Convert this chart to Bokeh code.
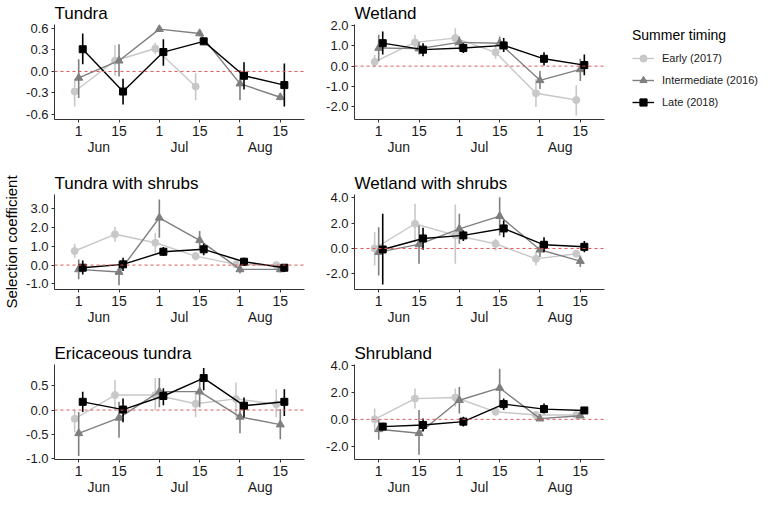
from bokeh.plotting import figure
from bokeh.layouts import column, row
from bokeh.models import (FixedTicker, LinearAxis, Legend, LegendItem,
                          Range1d, Span, NumeralTickFormatter)
from bokeh.embed import file_html
from bokeh.resources import INLINE

nan = float("nan")

# x positions: 1 Jun, 15 Jun, 1 Jul, 15 Jul, 1 Aug, 15 Aug
periods = [1, 2, 3, 4, 5, 6]
day_labels = ["1", "15", "1", "15", "1", "15"]
month_pos = [1.5, 3.5, 5.5]
month_labels = ["Jun", "Jul", "Aug"]

timings = ["Early", "Intermediate", "Late"]
timing_labels = ["Early (2017)", "Intermediate (2016)", "Late (2018)"]

# --- Tundra
tundra_est = {"Early": [-0.28, 0.15, 0.32, -0.21, nan, nan],
              "Intermediate": [-0.09, 0.15, 0.59, 0.53, -0.17, -0.36],
              "Late": [0.31, -0.28, 0.27, 0.42, -0.06, -0.19]}
tundra_lo = {"Early": [-0.49, -0.06, 0.24, -0.40, nan, nan],
             "Intermediate": [-0.37, -0.07, 0.55, 0.49, -0.40, -0.40],
             "Late": [0.10, -0.46, 0.08, 0.38, -0.25, -0.49]}
tundra_hi = {"Early": [-0.10, 0.37, 0.40, -0.02, nan, nan],
             "Intermediate": [0.17, 0.38, 0.63, 0.57, 0.02, -0.32],
             "Late": [0.53, -0.10, 0.45, 0.46, 0.13, 0.11]}

# --- Wetland
wetland_est = {"Early": [0.21, 1.17, 1.38, 0.68, -1.34, -1.67],
               "Intermediate": [0.89, 0.86, 1.17, 1.13, -0.70, -0.16],
               "Late": [1.13, 0.81, 0.89, 1.02, 0.36, 0.05]}
wetland_lo = {"Early": [-0.05, 0.80, 0.97, 0.36, -2.02, -2.43],
              "Intermediate": [0.24, 0.57, 0.80, 0.80, -1.13, -0.73],
              "Late": [0.57, 0.49, 0.65, 0.70, 0.03, -0.45]}
wetland_hi = {"Early": [0.55, 1.54, 1.86, 1.05, -0.65, -0.94],
              "Intermediate": [1.54, 1.20, 1.46, 1.46, -0.24, 0.36],
              "Late": [1.70, 1.13, 1.13, 1.38, 0.68, 0.57]}

# --- Tundra with shrubs
tshrub_est = {"Early": [0.75, 1.64, 1.19, 0.48, 0.04, 0.00],
              "Intermediate": [-0.23, -0.37, 2.52, 1.32, -0.23, -0.23],
              "Late": [-0.14, 0.04, 0.71, 0.84, 0.18, -0.14]}
tshrub_lo = {"Early": [0.39, 1.24, 0.66, 0.25, -0.12, -0.12],
             "Intermediate": [-0.76, -1.08, 1.46, 0.78, -0.45, -0.40],
             "Late": [-0.50, -0.32, 0.48, 0.53, -0.05, -0.36]}
tshrub_hi = {"Early": [1.14, 2.03, 1.72, 0.66, 0.20, 0.12],
             "Intermediate": [0.30, 0.21, 3.50, 1.81, 0.03, -0.05],
             "Late": [0.25, 0.39, 0.96, 1.14, 0.39, 0.04]}

# --- Wetland with shrubs
wshrub_est = {"Early": [0.00, 1.95, 1.03, 0.37, -0.82, -0.42],
              "Intermediate": [-0.29, 0.32, 1.55, 2.55, -0.10, -1.00],
              "Late": [-0.08, 0.79, 1.03, 1.58, 0.29, 0.13]}
wshrub_lo = {"Early": [-1.34, 0.50, -1.21, -0.16, -1.34, -0.68],
             "Intermediate": [-2.13, -1.21, 0.37, 1.03, -0.68, -1.47],
             "Late": [-2.84, -0.10, 0.58, 0.89, -0.29, -0.29]}
wshrub_hi = {"Early": [1.29, 3.53, 3.47, 0.76, -0.29, -0.16],
             "Intermediate": [1.68, 1.82, 2.74, 4.05, 0.50, -0.55],
             "Late": [2.74, 1.63, 1.42, 2.21, 0.89, 0.58]}

# --- Ericaceous tundra
eric_est = {"Early": [-0.18, 0.31, 0.31, 0.13, 0.23, 0.12],
            "Intermediate": [-0.48, -0.16, 0.38, 0.38, -0.14, -0.30],
            "Late": [0.17, 0.01, 0.29, 0.66, 0.09, 0.17]}
eric_lo = {"Early": [-0.46, 0.00, 0.00, -0.15, -0.15, -0.15],
           "Intermediate": [-0.95, -0.57, 0.06, 0.06, -0.48, -0.60],
           "Late": [-0.04, -0.25, 0.10, 0.41, -0.15, -0.12]}
eric_hi = {"Early": [0.00, 0.62, 0.66, 0.38, 0.57, 0.43],
           "Intermediate": [-0.04, 0.17, 0.66, 0.66, 0.16, 0.02],
           "Late": [0.38, 0.24, 0.45, 0.87, 0.26, 0.43]}

# --- Shrubland
shrub_est = {"Early": [0.00, 1.54, 1.62, 0.56, 0.32, 0.32],
             "Intermediate": [-0.74, -1.03, 1.42, 2.33, 0.05, 0.27],
             "Late": [-0.54, -0.42, -0.17, 1.13, 0.76, 0.66]}
shrub_lo = {"Early": [-0.90, 0.81, 0.93, 0.32, 0.15, 0.15],
            "Intermediate": [-1.52, -2.62, 0.44, 0.88, -0.10, 0.10],
            "Late": [-0.83, -0.91, -0.54, 0.69, 0.44, 0.44]}
shrub_hi = {"Early": [0.81, 2.28, 2.28, 0.81, 0.50, 0.50],
            "Intermediate": [-0.05, 0.69, 2.40, 3.75, 0.20, 0.44],
            "Late": [-0.25, 0.07, 0.20, 1.54, 1.18, 0.88]}

FONT = "Liberation Sans"
colors = {"Early": "#c8c8c8", "Intermediate": "#7f7f7f", "Late": "#000000"}
markers = {"Early": "circle", "Intermediate": "triangle", "Late": "square"}
msize = {"Early": 7, "Intermediate": 8, "Late": 7}
dodge = {"Early": -0.1, "Intermediate": 0.0, "Late": 0.1}


def panel(title, est, lo, hi, yr, yticks, left, top, bottom, ylabel=None):
    p = figure(frame_width=250, frame_height=95,
               x_range=Range1d(0.4, 6.6), y_range=Range1d(*yr),
               output_backend="svg", toolbar_location=None,
               min_border_left=50 if left else 44,
               min_border_right=6 if left else 4,
               min_border_top=top, min_border_bottom=bottom)
    p.outline_line_color = None
    p.grid.visible = False
    p.title.text = title
    p.title.text_font = FONT
    p.title.text_font_size = "17px"
    p.title.text_font_style = "normal"
    p.title.text_color = "#000000"
    p.title.align = "left"
    p.title.standoff = 3

    p.add_layout(Span(location=0, dimension="width", line_color="#e05555",
                      line_dash="3 3", line_width=1))

    for t in timings:
        xs = [x + dodge[t] for x in periods]
        p.segment(xs, lo[t], xs, hi[t], line_color=colors[t], line_width=1.6)
        p.line(xs, est[t], line_color=colors[t], line_width=1.4)
        p.scatter(xs, est[t], marker=markers[t], size=msize[t],
                  fill_color=colors[t], line_color=colors[t])

    xa = p.xaxis[0]
    xa.ticker = FixedTicker(ticks=periods)
    xa.major_label_overrides = dict(zip(periods, day_labels))
    ya = p.yaxis[0]
    ya.ticker = FixedTicker(ticks=yticks)
    ya.formatter = NumeralTickFormatter(format="0.0")
    for a in (xa, ya):
        a.axis_line_color = "#333333"
        a.major_tick_line_color = "#333333"
        a.major_tick_in = 0
        a.major_tick_out = 3
        a.minor_tick_line_color = None
        a.minor_tick_in = 0
        a.minor_tick_out = 0
        a.major_label_text_font = FONT
        a.major_label_text_color = "#1a1a1a"
        a.major_label_standoff = 3
    xa.major_label_text_font_size = "14px"
    ya.major_label_text_font_size = "13px"
    if ylabel:
        ya.axis_label = ylabel
        ya.axis_label_text_font = FONT
        ya.axis_label_text_font_size = "15px"
        ya.axis_label_text_font_style = "normal"
        ya.axis_label_text_color = "#000000"
        ya.axis_label_standoff = 3

    # month names under the day ticks
    ma = LinearAxis(ticker=FixedTicker(ticks=month_pos),
                    major_label_overrides=dict(zip(month_pos, month_labels)))
    ma.axis_line_color = None
    ma.major_tick_line_color = None
    ma.minor_tick_line_color = None
    ma.major_tick_in = 0
    ma.major_tick_out = 0
    ma.minor_tick_in = 0
    ma.minor_tick_out = 0
    ma.major_label_standoff = 0
    ma.major_label_text_font = FONT
    ma.major_label_text_font_size = "14px"
    ma.major_label_text_color = "#1a1a1a"
    p.add_layout(ma, "below")
    return p


p1 = panel("Tundra", tundra_est, tundra_lo, tundra_hi, (-0.67, 0.655),
           [-0.6, -0.3, 0, 0.3, 0.6], True, 24, 39)
p2 = panel("Wetland", wetland_est, wetland_lo, wetland_hi, (-2.63, 2.05),
           [-2, -1, 0, 1, 2], False, 24, 39)
p3 = panel("Tundra with shrubs", tshrub_est, tshrub_lo, tshrub_hi, (-1.3, 3.76),
           [-1, 0, 1, 2, 3], True, 36, 39, ylabel="Selection coefficient")
p4 = panel("Wetland with shrubs", wshrub_est, wshrub_lo, wshrub_hi, (-3.24, 4.26),
           [-2, 0, 2, 4], False, 36, 39)
p5 = panel("Ericaceous tundra", eric_est, eric_lo, eric_hi, (-1.02, 0.94),
           [-1, -0.5, 0, 0.5], True, 36, 38)
p6 = panel("Shrubland", shrub_est, shrub_lo, shrub_hi, (-2.98, 4.07),
           [-2, 0, 2, 4], False, 36, 38)

# legend in its own small figure
lg = figure(frame_width=136, frame_height=130, x_range=(0, 1), y_range=(0, 1),
            output_backend="svg", toolbar_location=None,
            min_border_left=24, min_border_top=27, min_border_right=0,
            min_border_bottom=0)
lg.outline_line_color = None
lg.axis.visible = False
lg.grid.visible = False
items = []
for t, lab in zip(timings, timing_labels):
    rl = lg.line([-1, -2], [-1, -2], line_color=colors[t], line_width=1.4)
    rs = lg.scatter([-1], [-1], marker=markers[t], size=msize[t],
                    fill_color=colors[t], line_color=colors[t])
    items.append(LegendItem(label=lab, renderers=[rl, rs]))
leg = Legend(items=items, location="top_left", title="Summer timing")
leg.title_text_font = FONT
leg.title_text_font_size = "14px"
leg.title_text_font_style = "normal"
leg.title_text_color = "#000000"
leg.title_standoff = 6
leg.label_text_font = FONT
leg.label_text_font_size = "11px"
leg.label_text_color = "#1a1a1a"
leg.border_line_color = None
leg.background_fill_alpha = 0
leg.margin = 0
leg.padding = 0
leg.spacing = 4
leg.label_height = 18
leg.glyph_height = 18
leg.glyph_width = 22
leg.label_standoff = 8
lg.add_layout(leg)

layout = row(column(p1, p3, p5), column(p2, p4, p6), lg)

open("out.html", "w").write(file_html(layout, INLINE))
